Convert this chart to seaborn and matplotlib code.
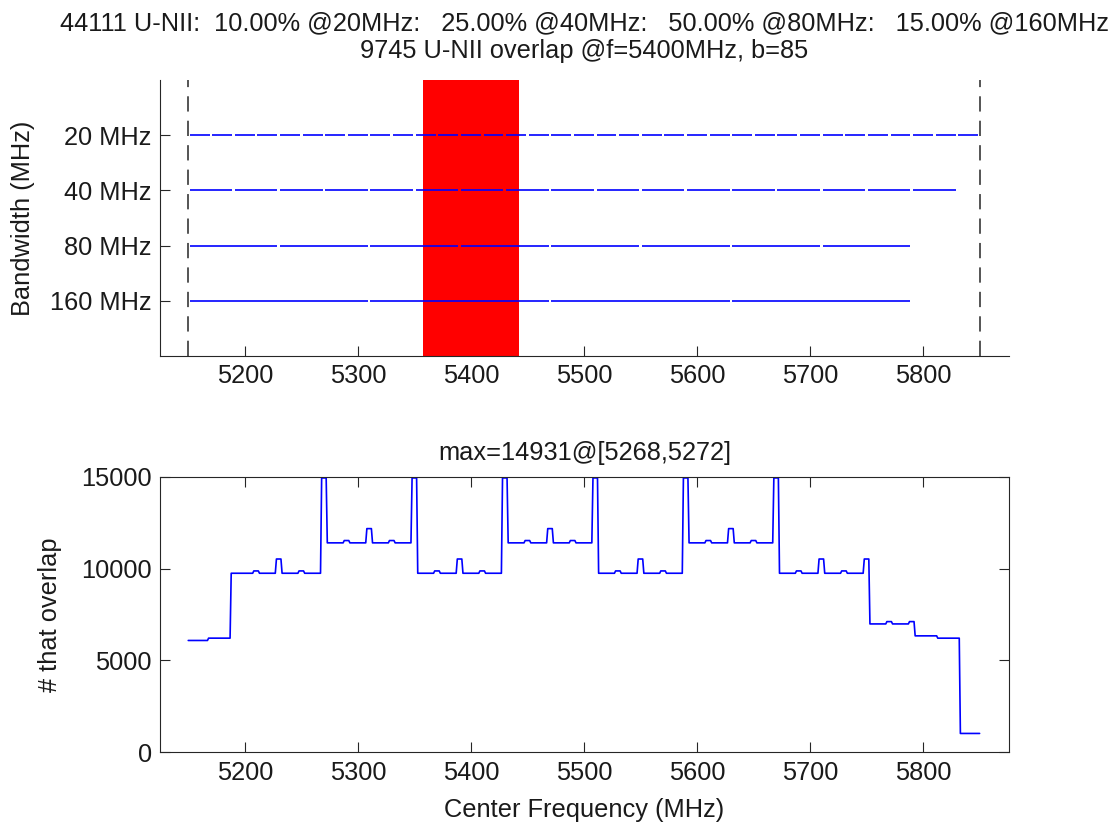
import numpy as np
import pandas as pd
import matplotlib
matplotlib.use('Agg')
import matplotlib.pyplot as plt
import seaborn as sns

# ---------------- data ----------------
bandwidth_labels = ['20 MHz', '40 MHz', '80 MHz', '160 MHz']
bandwidths_mhz = [20, 40, 80, 160]
channels_per_bw = [35, 17, 8, 4]
band_low = 5150
band_high = 5850
probe_center = 5400
probe_width = 85

# step curve of "# that overlap": start frequency of each flat piece and its level
seg_start = [5150, 5168, 5188,
             5208, 5213, 5228, 5233, 5248, 5253, 5268, 5273, 5288, 5293,
             5308, 5313, 5328, 5333, 5348, 5353, 5368, 5373, 5388, 5393,
             5408, 5413, 5428, 5433, 5448, 5453, 5468, 5473, 5488, 5493,
             5508, 5513, 5528, 5533, 5548, 5553, 5568, 5573, 5588, 5593,
             5608, 5613, 5628, 5633, 5648, 5653, 5668, 5673, 5688, 5693,
             5708, 5713, 5728, 5733, 5748, 5753, 5768, 5773, 5788, 5793,
             5813, 5833]
seg_level = [6087, 6213, 9745,
             9871, 9745, 10520, 9745, 9871, 9745, 14931, 11399, 11525, 11399,
             12174, 11399, 11525, 11399, 14931, 9745, 9871, 9745, 10520, 9745,
             9871, 9745, 14931, 11399, 11525, 11399, 12174, 11399, 11525, 11399,
             14931, 9745, 9871, 9745, 10520, 9745, 9871, 9745, 14931, 11399,
             11525, 11399, 12174, 11399, 11525, 11399, 14931, 9745, 9871, 9745,
             10520, 9745, 9871, 9745, 10520, 6987, 7113, 6987, 7113, 6338,
             6212, 1027]
sweep_end = 5850

title_top = ('44111 U-NII:  10.00% @20MHz:   25.00% @40MHz:   50.00% @80MHz:   15.00% @160MHz\n'
             '9745 U-NII overlap @f=5400MHz, b=85')
title_bottom = 'max=14931@[5268,5272]'
xticks = [5200, 5300, 5400, 5500, 5600, 5700, 5800]
yticks_bottom = [0, 5000, 10000, 15000]

# ---------------- style ----------------
sns.set_theme(style='white')
plt.rcParams['font.family'] = ['Liberation Sans', 'DejaVu Sans']
FS = 18.3
spine_col = '#262626'
plt.rcParams.update({
    'axes.edgecolor': spine_col,
    'axes.linewidth': 0.8,
    'xtick.direction': 'in',
    'ytick.direction': 'in',
    'xtick.major.size': 7,
    'ytick.major.size': 7,
    'xtick.major.width': 0.8,
    'ytick.major.width': 0.8,
    'xtick.color': spine_col,
    'ytick.color': spine_col,
    'xtick.labelcolor': '#1a1a1a',
    'ytick.labelcolor': '#1a1a1a',
    'text.color': '#1a1a1a',
    'axes.labelcolor': '#1a1a1a',
    'font.size': FS,
})

fig = plt.figure(figsize=(11.18, 8.25), dpi=100)
ax1 = fig.add_axes([0.1431, 0.5685, 0.7594, 0.3345])
ax2 = fig.add_axes([0.1431, 0.0881, 0.7594, 0.3341])

# ---------------- top panel ----------------
rows = []
sid = 0
for i, (w, n) in enumerate(zip(bandwidths_mhz, channels_per_bw)):
    starts = band_low + w * np.arange(n)
    for s in starts:
        rows.append({'freq': s + 1.2, 'row': i + 1, 'seg': sid})
        rows.append({'freq': s + w - 1.2, 'row': i + 1, 'seg': sid})
        sid += 1
df_ch = pd.DataFrame(rows)

ax1.axvspan(probe_center - probe_width / 2, probe_center + probe_width / 2,
            color='red', lw=0, zorder=1)
sns.lineplot(data=df_ch, x='freq', y='row', units='seg', estimator=None,
             color='blue', lw=1.2, ax=ax1, zorder=2, solid_capstyle='butt')
for xv in (band_low, band_high):
    ax1.axvline(xv, color='#262626', lw=1.1, linestyle=(0, (10, 6)), zorder=3)

ax1.set_xlim(5125, 5876)
ax1.set_ylim(5, 0)
ax1.set_yticks([1, 2, 3, 4])
ax1.set_yticklabels(bandwidth_labels)
ax1.set_xticks(xticks)
ax1.set_xlabel('')
ax1.set_ylabel('Bandwidth (MHz)', fontsize=FS)
ax1.yaxis.set_label_coords((35 - 160) / 849, 0.5)
ax1.tick_params(axis='both', labelsize=FS, pad=6, bottom=True, left=True,
                top=False, right=False)
for sp in ('top', 'right'):
    ax1.spines[sp].set_visible(False)
ax1.set_title(title_top, fontsize=FS, pad=16, linespacing=1.2)

# ---------------- bottom panel ----------------
px, py = [], []
for i, (s, lev) in enumerate(zip(seg_start, seg_level)):
    e = seg_start[i + 1] - 1 if i + 1 < len(seg_start) else sweep_end
    px += [s, e]
    py += [lev, lev]
df_ov = pd.DataFrame({'f': px, 'n': py})
sns.lineplot(data=df_ov, x='f', y='n', sort=False, estimator=None,
             color='blue', lw=1.2, ax=ax2)

ax2.set_xlim(5125, 5876)
ax2.set_ylim(0, 15000)
ax2.set_xticks(xticks)
ax2.set_yticks(yticks_bottom)
ax2.tick_params(axis='both', labelsize=FS, pad=6, top=True, right=True,
                bottom=True, left=True)
ax2.set_xlabel('Center Frequency (MHz)', fontsize=FS)
ax2.set_ylabel('# that overlap', fontsize=FS)
ax2.yaxis.set_label_coords((62 - 160) / 849, 0.5)
ax2.xaxis.set_label_coords(0.5, (752.3 - 798) / 275.6)
ax2.set_title(title_bottom, fontsize=FS, pad=12)

fig.savefig('out.png', dpi=100)
